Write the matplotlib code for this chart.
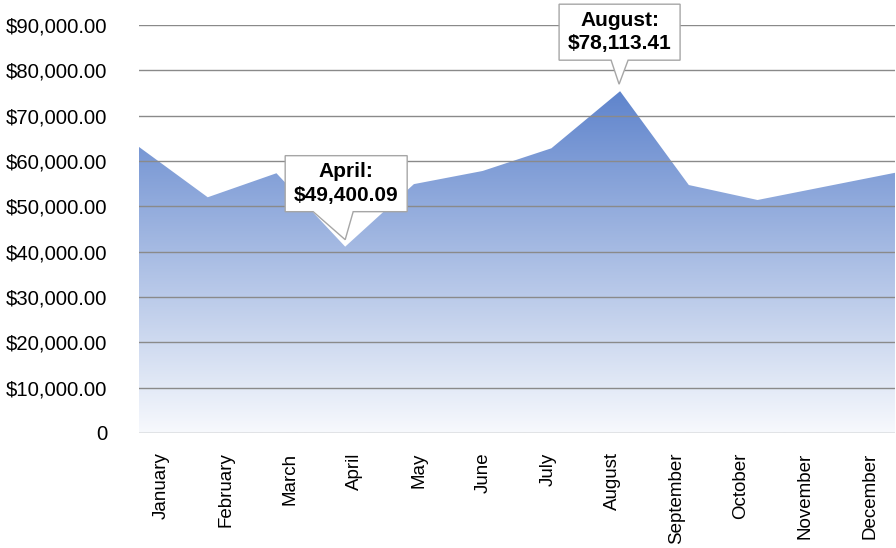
import numpy as np
import matplotlib
matplotlib.use("Agg")
import matplotlib.pyplot as plt
from matplotlib.colors import LinearSegmentedColormap
from matplotlib.patches import Polygon
from matplotlib import font_manager as fm

months = ["January", "February", "March", "April", "May", "June", "July",
          "August", "September", "October", "November", "December"]
values = [63100, 52000, 57300, 41100, 54900, 57800, 62800, 75400,
          54700, 51400, 54400, 57400]
y_ticks = [0, 10000, 20000, 30000, 40000, 50000, 60000, 70000, 80000, 90000]
y_labels = ["0"] + ["${:,.2f}".format(v) for v in y_ticks[1:]]
callouts = [("April", "April:\n$49,400.09"), ("August", "August:\n$78,113.41")]

names = {f.name for f in fm.fontManager.ttflist}
base_font = "Liberation Sans" if "Liberation Sans" in names else "DejaVu Sans"
narrow_font = "Liberation Sans Narrow" if "Liberation Sans Narrow" in names else base_font

fig = plt.figure(figsize=(8.96, 5.48), dpi=100)
ax = fig.add_axes([139/896, 1 - 433/548, (895-139)/896, 408/548])

x = np.arange(len(months))
ax.set_xlim(0, len(months) - 1)
ax.set_ylim(0, 90000)

# gradient-filled area
poly = ax.fill_between(x, values, 0, facecolor="none", edgecolor="none")
cmap = LinearSegmentedColormap.from_list("g", ["#f7f9fd", "#5f84cc"])
grad = np.linspace(0, 1, 256).reshape(-1, 1)
im = ax.imshow(grad, cmap=cmap, origin="lower", aspect="auto",
               extent=[0, len(months) - 1, 0, max(values)], zorder=1,
               interpolation="bilinear")
path = poly.get_paths()[0]
im.set_clip_path(path, transform=ax.transData)
ax.set_xlim(0, len(months) - 1)
ax.set_ylim(0, 90000)

# gridlines
for yv in y_ticks:
    ax.axhline(yv, color="#8a8a8a", lw=1.0, zorder=2)

for s in ax.spines.values():
    s.set_visible(False)

ax.set_yticks(y_ticks)
ax.set_yticklabels(y_labels, fontfamily=base_font, fontsize=14.6, color="#000000")
ax.tick_params(axis="y", length=0, pad=23)

label_pos = np.linspace(0.33, 10.63, len(months))
ax.set_xticks(label_pos)
ax.set_xticklabels(months, rotation=90, fontfamily=base_font, fontsize=13.5,
                   color="#000000", ha="center", va="top")
ax.tick_params(axis="x", length=0, pad=14)

# callouts (pixel offsets relative to the data point, display y up)
shapes = {
    "April": dict(box=(-60, 62, 35, 91), base=(-32, 8), tip=(0, 7)),
    "August": dict(box=(-61, 60, 31, 87), base=(-9, 8), tip=(-1, 7)),
}
fig.canvas.draw()
for month, text in callouts:
    i = months.index(month)
    px, py = ax.transData.transform((x[i], values[i]))
    s = shapes[month]
    l, r, b, t = s["box"]
    bl, br = s["base"]
    tx, ty = s["tip"]
    verts = [(l, t), (r, t), (r, b), (br, b), (tx, ty), (bl, b), (l, b)]
    verts = [(px + vx, py + vy) for vx, vy in verts]
    patch = Polygon(verts, closed=True, facecolor="white", edgecolor="#a6a6a6",
                    lw=1.0, transform=None, zorder=5)
    fig.add_artist(patch)
    fig.text((px + (l + r) / 2) / fig.bbox.width, (py + (b + t) / 2) / fig.bbox.height,
             text, ha="center", va="center", fontfamily=narrow_font,
             fontweight="bold", fontsize=15, linespacing=1.3, zorder=6)

fig.savefig("out.png", dpi=100)
